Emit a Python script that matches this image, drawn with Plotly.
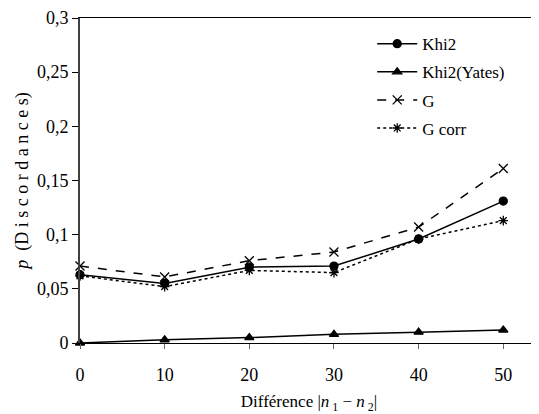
import plotly.graph_objects as go

x_vals = [0, 10, 20, 30, 40, 50]
khi2 = [0.063, 0.055, 0.070, 0.071, 0.096, 0.131]
khi2_yates = [0.000, 0.003, 0.005, 0.008, 0.010, 0.012]
g_vals = [0.071, 0.061, 0.076, 0.084, 0.107, 0.161]
g_corr = [0.062, 0.052, 0.067, 0.065, 0.096, 0.113]

y_ticks = [0, 0.05, 0.1, 0.15, 0.2, 0.25, 0.3]
y_ticktext = ["0", "0,05", "0,1", "0,15", "0,2", "0,25", "0,3"]
x_ticks = [0, 10, 20, 30, 40, 50]

FONT = "Liberation Serif, serif"

fig = go.Figure()
series = [
    ("Khi2", khi2, "solid", "circle", 8),
    ("Khi2(Yates)", khi2_yates, "solid", "triangle-up", 8),
    ("G", g_vals, "dash", "x-thin-open", 9),
    ("G corr", g_corr, "dot", "asterisk-open", 8),
]
for i, (name, ys, dash, sym, size) in enumerate(series):
    fig.add_trace(go.Scatter(
        x=x_vals, y=ys, name=name, mode="lines+markers",
        line=dict(color="black", width=1.5, dash=dash),
        marker=dict(symbol=sym, size=size, color="black",
                    line=dict(color="black", width=1.3)),
        cliponaxis=False, legendgroup=f"g{i}",
    ))

fig.update_layout(
    width=531, height=406,
    margin=dict(l=72, r=1, t=10, b=71),
    paper_bgcolor="white", plot_bgcolor="white",
    font=dict(family=FONT, size=17, color="black"),
    showlegend=True,
    legend=dict(x=0.638, y=0.975, xanchor="left", yanchor="top",
                bgcolor="rgba(0,0,0,0)",
                font=dict(family=FONT, size=17, color="black"),
                traceorder="grouped", tracegroupgap=3, itemwidth=40),
    xaxis=dict(range=[0, 54.1], tickvals=x_ticks, ticks="outside", ticklen=5,
               tickcolor="#666", showline=True, linecolor="black", linewidth=1,
               mirror=True, showgrid=False, zeroline=False, automargin=False,
               tickfont=dict(family=FONT, size=18, color="black"),
               ticklabelstandoff=10,
               title=dict(text="Différence |<i>n</i><sub> 1</sub> − <i>n</i><sub> 2</sub>|",
                          font=dict(family=FONT, size=17, color="black"),
                          standoff=13)),
    yaxis=dict(range=[0, 0.3], tickvals=y_ticks, ticktext=y_ticktext,
               ticks="outside", ticklen=6, tickcolor="black",
               showline=True, linecolor="#404040", linewidth=2,
               showgrid=False, zeroline=False, automargin=False,
               tickfont=dict(family=FONT, size=18, color="black"),
               title=dict(text="<i>p</i>  (D i s c o r d a n c e s)",
                          font=dict(family=FONT, size=18, color="black"),
                          standoff=4)),
)

fig.write_html("out.html")
